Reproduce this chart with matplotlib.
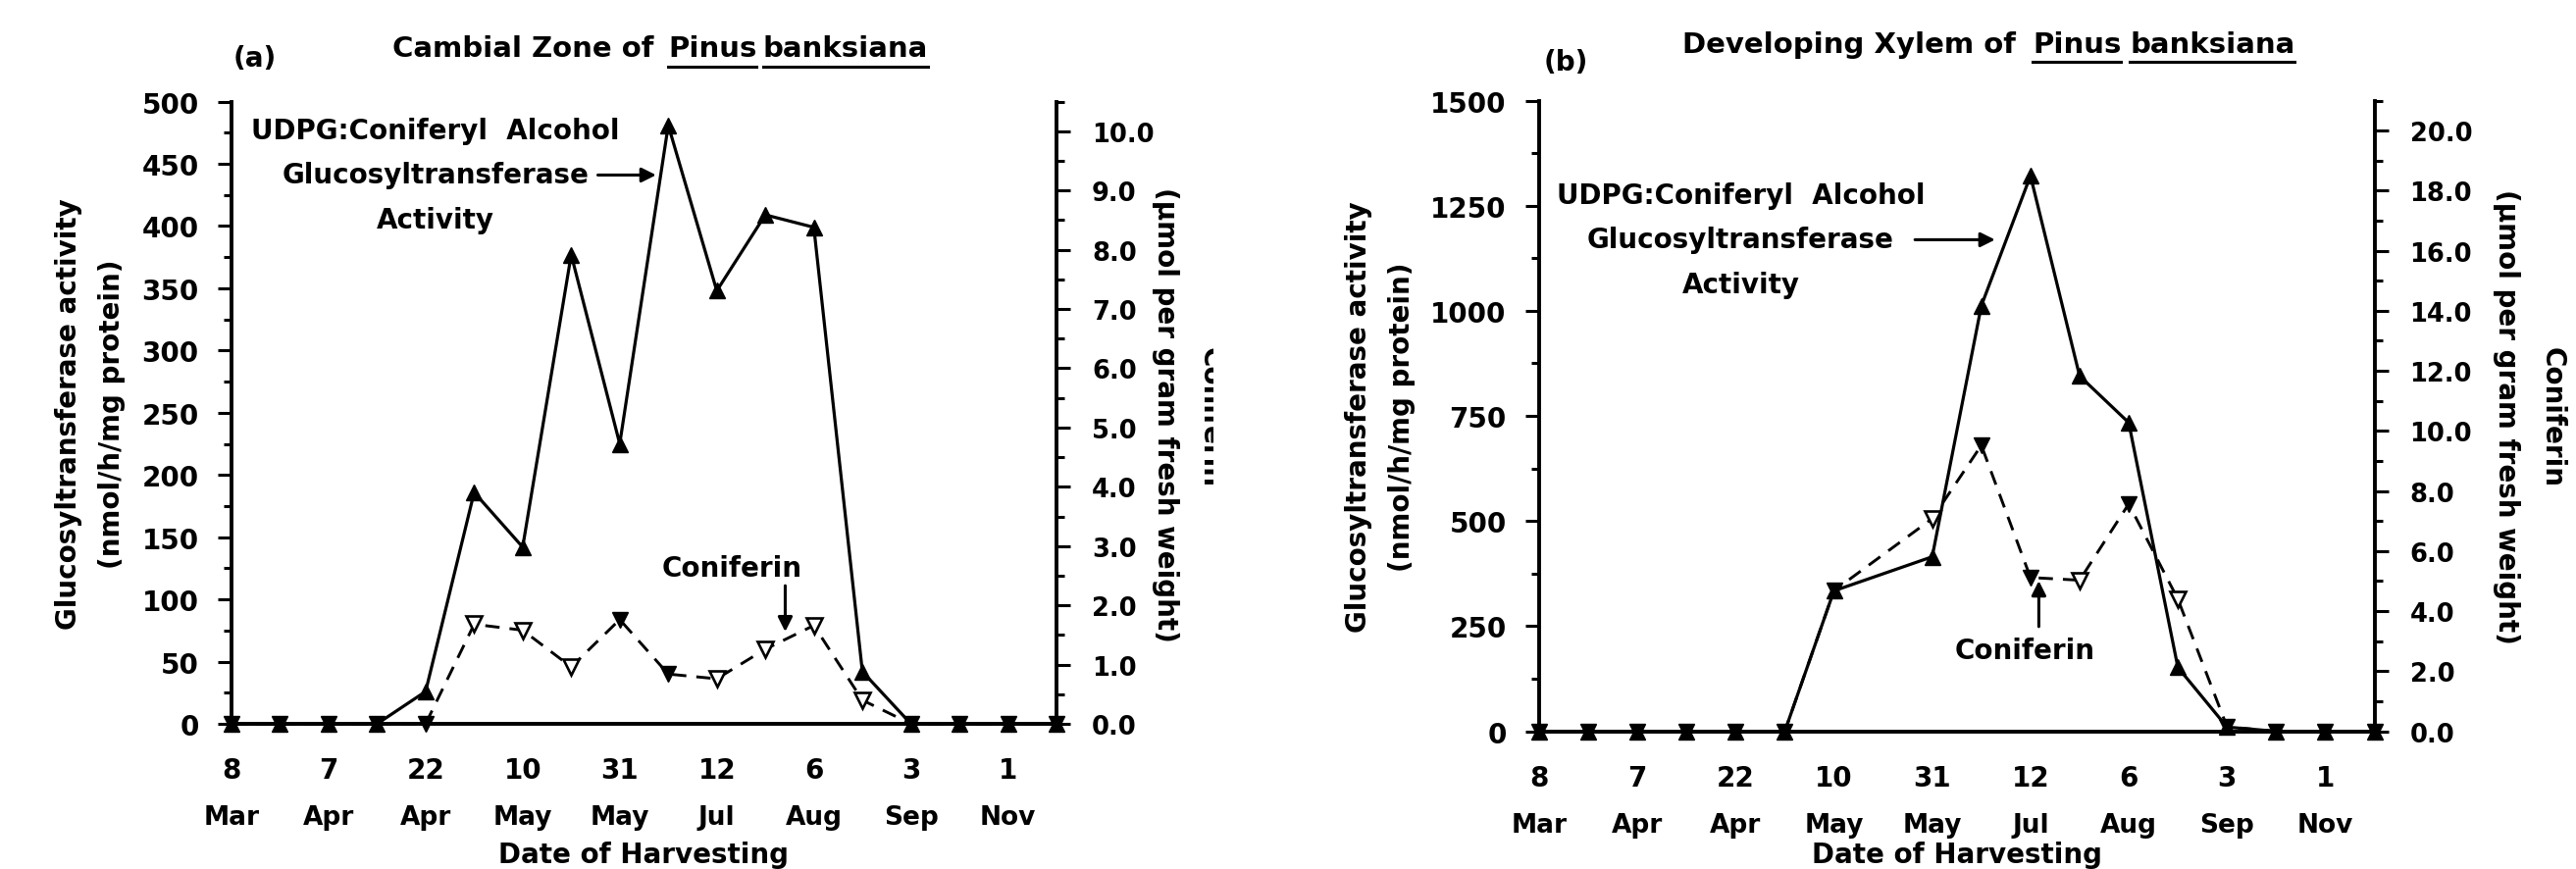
import matplotlib
matplotlib.use('Agg')
import matplotlib.pyplot as plt
from matplotlib.ticker import MultipleLocator, FormatStrFormatter
from matplotlib.lines import Line2D
from matplotlib.transforms import Bbox, TransformedBbox
import numpy as np

W, H = 2626, 887
DPI = 100

# harvest dates (every second sampling position carries a label)
label_pos = [0, 2, 4, 6, 8, 10, 12, 14, 16]
date_days = ['8', '7', '22', '10', '31', '12', '6', '3', '1']
date_months = ['Mar', 'Apr', 'Apr', 'May', 'May', 'Jul', 'Aug', 'Sep', 'Nov']

# (a) cambial zone
a_x = list(range(18))
a_act = [0, 0, 0, 0, 26, 186, 142, 377, 225, 481, 348, 409, 399, 42, 0, 0, 0, 0]
a_con = [0, 0, 0, 0, 0, 1.68, 1.58, 0.96, 1.76, 0.84, 0.76, 1.26, 1.66, 0.40, 0, 0, 0, 0]
a_open = [0, 0, 0, 0, 0, 1, 1, 1, 0, 0, 1, 1, 1, 1, 0, 0, 0, 0]

# (b) developing xylem (no sample at position 7)
b_x = [0, 1, 2, 3, 4, 5, 6, 8, 9, 10, 11, 12, 13, 14, 15, 16, 17]
b_act = [0, 0, 0, 0, 0, 0, 334, 415, 1012, 1321, 845, 734, 152, 10, 0, 0, 0]
b_con = [0, 0, 0, 0, 0, 0, 4.68, 7.08, 9.52, 5.12, 5.03, 7.57, 4.40, 0.15, 0, 0, 0]
b_open = [0, 0, 0, 0, 0, 0, 0, 1, 0, 0, 1, 0, 1, 0, 0, 0, 0]

plt.rcParams['font.family'] = ['DejaVu Sans']
plt.rcParams['font.weight'] = 'bold'

fig = plt.figure(figsize=(W / DPI, H / DPI), dpi=DPI)


def fx(px):
    return px / W


def fy(py):
    return 1 - py / H


def panel(left, right, top, bottom, xs, act, con, opn, ymax, ystep, rmax, rstep, rminor):
    ax = fig.add_axes([fx(left), fy(bottom), fx(right - left), (bottom - top) / H])
    ax.set_xlim(0, 17)
    ax.set_ylim(0, ymax)
    ax.yaxis.set_major_locator(MultipleLocator(ystep))
    ax.yaxis.set_minor_locator(MultipleLocator(ystep / 2))
    ax.set_xticks([])
    for p, d, m in zip(label_pos, date_days, date_months):
        ax.annotate(d, xy=(p, 0), xycoords=('data', 'axes fraction'), xytext=(0, -34),
                    textcoords='offset points', ha='center', va='center', fontsize=20)
        ax.annotate(m, xy=(p, 0), xycoords=('data', 'axes fraction'), xytext=(0, -68.5),
                    textcoords='offset points', ha='center', va='center', fontsize=19)
    ax.tick_params(axis='y', which='major', length=10, width=2.2, labelsize=20, pad=14)
    ax.tick_params(axis='y', which='minor', length=5.5, width=2.2)
    ax.spines['top'].set_visible(False)
    ax.spines['right'].set_visible(False)
    for s in ['left', 'bottom']:
        ax.spines[s].set_linewidth(2.8)

    ax2 = ax.twinx()
    ax2.set_ylim(0, rmax)
    ax2.yaxis.set_major_locator(MultipleLocator(rstep))
    ax2.yaxis.set_minor_locator(MultipleLocator(rminor))
    ax2.yaxis.set_major_formatter(FormatStrFormatter('%.1f'))
    ax2.tick_params(axis='y', which='major', length=10, width=2.2, labelsize=18.5, pad=16)
    ax2.tick_params(axis='y', which='minor', length=5.5, width=2.2)
    for s in ['top', 'left', 'bottom']:
        ax2.spines[s].set_visible(False)
    ax2.spines['right'].set_linewidth(2.8)

    ax.plot(xs, act, color='black', lw=2.3, marker='^', ms=12, clip_on=False, zorder=3)

    xs = np.array(xs)
    con = np.array(con)
    opn = np.array(opn, dtype=bool)
    ax2.plot(xs, con, color='black', lw=2.1, ls=(0, (5, 3.5)), clip_on=False, zorder=3)
    ax2.plot(xs[~opn], con[~opn], ls='none', marker='v', ms=12, color='black',
             clip_on=False, zorder=4)
    ax2.plot(xs[opn], con[opn], ls='none', marker='v', ms=12, mfc='white', mec='black',
             mew=1.9, clip_on=False, zorder=4)
    return ax, ax2


def annot(ax, tx, ty, a0, a1, c_txt, c0, c1):
    kw = dict(ha='center', va='center', fontsize=20)
    ax.text(tx, ty[0], 'UDPG:Coniferyl  Alcohol', **kw)
    ax.text(tx, ty[1], 'Glucosyltransferase', **kw)
    ax.text(tx, ty[2], 'Activity', **kw)
    arr = dict(arrowstyle='-|>', lw=2.2, color='black', mutation_scale=22, shrinkA=0, shrinkB=0)
    ax.annotate('', xy=a1, xytext=a0, arrowprops=arr)
    ax.text(c_txt[0], c_txt[1], 'Coniferin', **kw)
    ax.annotate('', xy=c1, xytext=c0, arrowprops=arr)


# panel (a)
axa, axa2 = panel(236, 1077, 104.6, 739, a_x, a_act, a_con, a_open, 500, 50, 10.5, 1.0, 0.5)
annot(axa, 4.2, [477, 441, 405], (7.55, 441), (8.75, 441), (10.32, 125), (11.41, 111), (11.41, 74))

# panel (b)
axb, axb2 = panel(1569, 2420.5, 103.5, 746.6, b_x, b_act, b_con, b_open, 1500, 250, 21, 2.0, 1.0)
annot(axb, 4.1, [1276, 1169, 1063], (7.65, 1169), (9.28, 1169), (9.88, 193), (10.17, 249), (10.17, 358))

# axis labels
ylab = 'Glucosyltransferase activity\n(nmol/h/mg protein)'
fig.text(fx(92), fy(422), ylab, rotation=90, ha='center', va='center', fontsize=20,
         linespacing=1.75, multialignment='center')
fig.text(fx(1407), fy(425), ylab, rotation=90, ha='center', va='center', fontsize=20,
         linespacing=1.75, multialignment='center')
fig.text(fx(656), fy(872), 'Date of Harvesting', ha='center', va='center', fontsize=20)
fig.text(fx(1995), fy(872), 'Date of Harvesting', ha='center', va='center', fontsize=20)

runit = '(\u00b5mol per gram fresh weight)'
fig.text(fx(1188), fy(423), runit, rotation=270, ha='center', va='center', fontsize=20)
fig.text(fx(2555), fy(425), runit, rotation=270, ha='center', va='center', fontsize=20)
fig.text(fx(2602), fy(425), 'Coniferin', rotation=270, ha='center', va='center', fontsize=20)
# panel (a) right label is cut off in the original
cut = fig.text(fx(1234), fy(425), 'Coniferin', rotation=270, ha='center', va='center',
               fontsize=20, clip_on=True)
cut.set_clip_box(TransformedBbox(Bbox([[0, 0], [fx(1237), 1]]), fig.transFigure))

# panel letters
fig.text(fx(260), fy(60), '(a)', ha='center', va='center', fontsize=20)
fig.text(fx(1596), fy(64), '(b)', ha='center', va='center', fontsize=20)

# titles with underlined species name
renderer = fig.canvas.get_renderer()


def title(pieces, base, uoff):
    for x0, txt, ul in pieces:
        t = fig.text(fx(x0), fy(base), txt, ha='left', va='baseline', fontsize=21)
        if ul:
            bb = t.get_window_extent(renderer)
            yy = fy(base + uoff)
            fig.add_artist(Line2D([fx(bb.x0), fx(bb.x1)], [yy, yy], color='black', lw=2.2,
                                  transform=fig.transFigure))


title([(400, 'Cambial Zone of', False), (681, 'Pinus', True), (778, 'banksiana', True)], 58, 11)
title([(1715, 'Developing Xylem of', False), (2072, 'Pinus', True), (2171, 'banksiana', True)], 54, 10)

fig.savefig('out.png', dpi=DPI)
